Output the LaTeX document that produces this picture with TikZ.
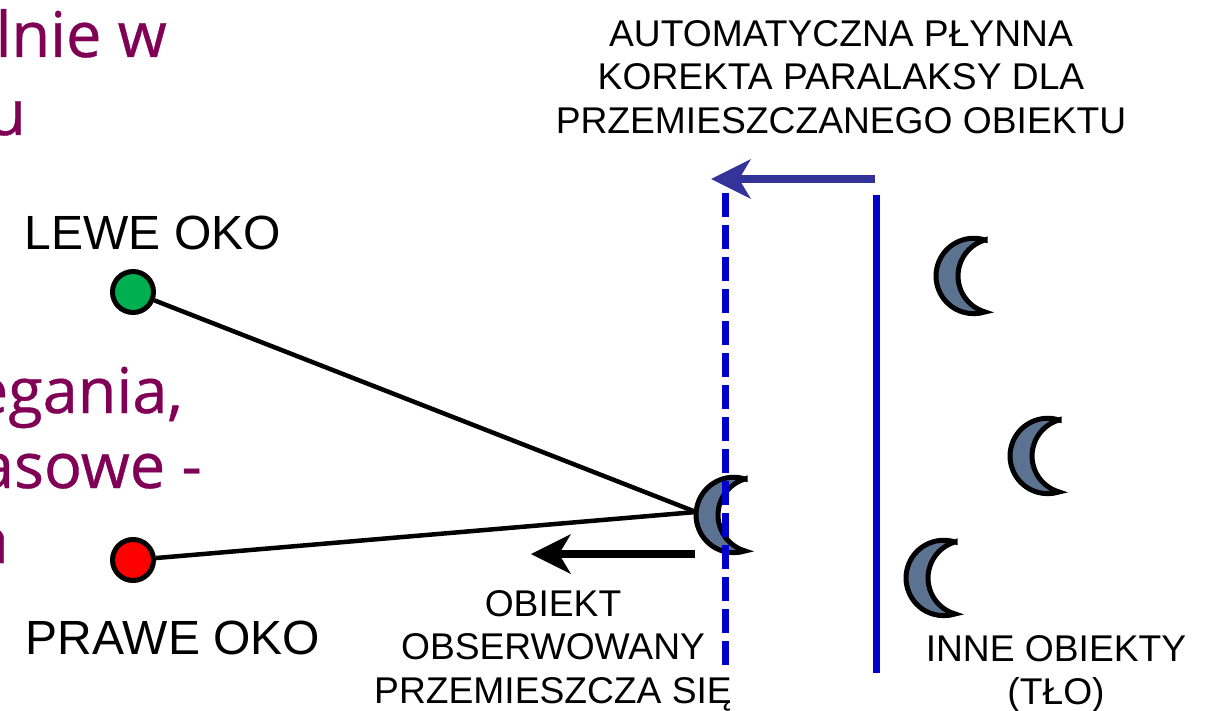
\documentclass[tikz,border=0pt]{standalone}
\usepackage{fontspec}
\setmainfont{Liberation Sans}
\newfontfamily\purplefont[FakeBold=0.6]{Open Sans}
\usetikzlibrary{arrows.meta}
\definecolor{purp}{HTML}{7F0055}
\definecolor{eyegreen}{HTML}{00B050}
\definecolor{moonfill}{HTML}{5B7390}
\definecolor{lineblue}{HTML}{0000CC}
\definecolor{arrowblue}{HTML}{333399}
\tikzset{
  bgtext/.style={text=purp, font=\purplefont\fontsize{63}{70}\selectfont, inner sep=0pt, anchor=base east},
  eyelabel/.style={font=\fontsize{48}{55}\selectfont, inner sep=0pt, anchor=base},
  smalltext/.style={font=\fontsize{37.2}{43.5}\selectfont, inner sep=0pt, align=center},
  eye/.style={circle, draw=black, line width=5pt, minimum size=41pt, inner sep=0pt},
  sightline/.style={draw=black, line width=4.5pt},
  moonstyle/.style={draw=black, fill=moonfill, line width=5pt, miter limit=10},
  moon/.pic={\path[moonstyle] (24,-36) arc[start angle=-72.6, end angle=-287.4, radius=37.7]
      arc[start angle=106.3, end angle=253.7, radius=37.5] -- cycle;},
  bigarrow/.style={line width=8pt, -{Stealth[length=40pt,width=40pt,inset=12pt,line width=0pt]}},
  planeline/.style={draw=lineblue, line width=7pt}
}
\begin{document}
\begin{tikzpicture}[x=1pt,y=-1pt]
\useasboundingbox[fill=white] (0,0) rectangle (1209,711);
% background slide text (cut off)
\node[bgtext] (t1) at (167,57) {lnie w};
\node[bgtext] (t2) at (26,135) {u};
\node[bgtext] (t3) at (183,413) {egania,};
\node[bgtext] (t4) at (202,488) {asowe -};
\node[bgtext] (t5) at (9,563) {a};
% eyes
\node[eyelabel] (ll) at (153,250) {LEWE OKO};
\node[eyelabel] (rl) at (173,654) {PRAWE OKO};
\node[eye, fill=eyegreen] (le) at (133,292) {};
\node[eye, fill=red] (re) at (133,560) {};
% observed object
\coordinate (m0) at (721,515);
\coordinate (mw) at (696,512);
\draw[sightline] (le) -- (mw);
\draw[sightline] (re) -- (mw);
\pic at (m0) {moon};
% background moons
\coordinate (m1) at (961,276);
\coordinate (m2) at (1035,456);
\coordinate (m3) at (931,578);
\pic at (m1) {moon};
\pic at (m2) {moon};
\pic at (m3) {moon};
% planes
\coordinate (d1) at (725.5,193);
\coordinate (d2) at (725.5,665);
\draw[planeline, dash pattern=on 24pt off 8pt] (d1) -- (d2);
\coordinate (s1) at (876,195);
\coordinate (s2) at (876,673);
\draw[planeline] (s1) -- (s2);
% arrows
\coordinate (ba1) at (695,554);
\coordinate (ba2) at (531,554);
\draw[bigarrow, draw=black, fill=black] (ba1) -- (ba2);
\coordinate (ua1) at (875,179);
\coordinate (ua2) at (711,179);
\draw[bigarrow, draw=arrowblue, fill=arrowblue] (ua1) -- (ua2);
% labels
\node[smalltext, anchor=north] (top) at (841,20) {AUTOMATYCZNA PŁYNNA\\KOREKTA PARALAKSY DLA\\PRZEMIESZCZANEGO OBIEKTU};
\node[smalltext, anchor=north] (obs) at (553,590) {OBIEKT\\OBSERWOWANY\\PRZEMIESZCZA SIĘ};
\node[smalltext, anchor=north] (bg) at (1056,635) {INNE OBIEKTY\\(TŁO)};
\end{tikzpicture}
\end{document}
